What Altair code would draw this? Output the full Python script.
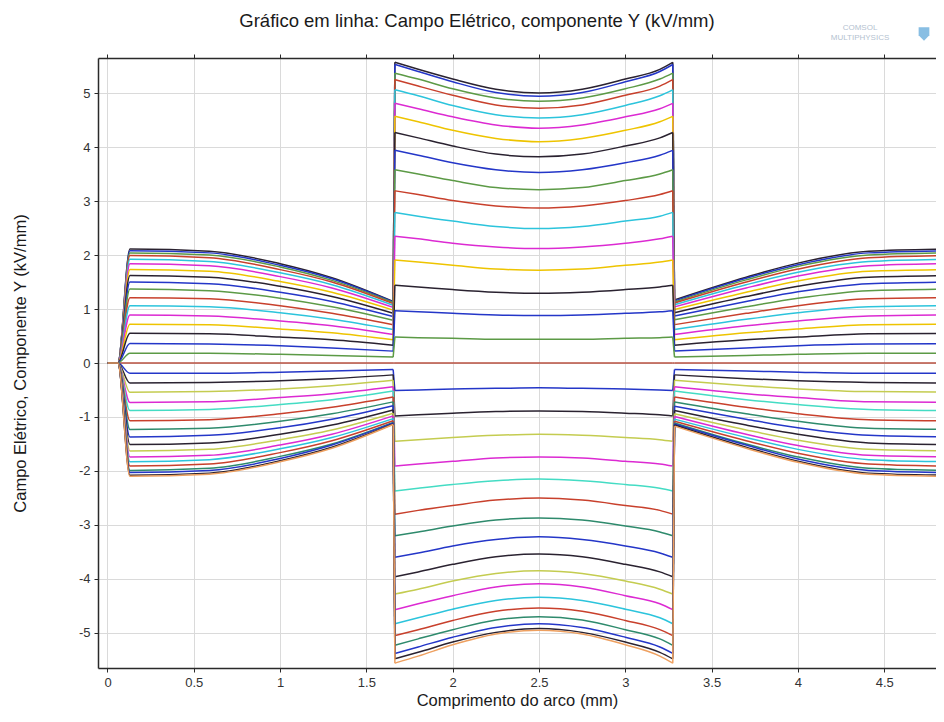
import altair as alt
import pandas as pd

# x positions (mm) where each curve was read
X_MM = [0.0, 0.06, 0.13, 0.59, 1.0, 1.3, 1.655, 1.665, 1.8, 2.0, 2.25, 2.5,
        2.75, 3.0, 3.2, 3.275, 3.285, 3.7, 4.0, 4.41, 4.87]
# index ranges of the three smooth pieces (left, middle, right); the jumps join them
PIECES = [(0, 7), (6, 8), (7, 16), (15, 17), (16, 21)]

X_TICKS = [0, 0.5, 1, 1.5, 2, 2.5, 3, 3.5, 4, 4.5]
Y_TICKS = [-5, -4, -3, -2, -1, 0, 1, 2, 3, 4, 5]

# positive curves (outer -> inner)
p01 = [0, 0, 2.11, 2.07, 1.84, 1.58, 1.14, 5.57, 5.44, 5.26, 5.07, 5.00, 5.07, 5.26, 5.44, 5.57, 1.17, 1.59, 1.85, 2.07, 2.11]
p02 = [0, 0, 2.08, 2.04, 1.81, 1.56, 1.13, 5.53, 5.40, 5.21, 5.01, 4.94, 5.01, 5.21, 5.40, 5.53, 1.15, 1.57, 1.82, 2.04, 2.08]
p03 = [0, 0, 2.04, 2.00, 1.78, 1.53, 1.12, 5.37, 5.26, 5.08, 4.91, 4.85, 4.91, 5.08, 5.26, 5.37, 1.13, 1.54, 1.79, 2.00, 2.04]
p04 = [0, 0, 1.99, 1.95, 1.73, 1.50, 1.10, 5.25, 5.13, 4.96, 4.78, 4.72, 4.78, 4.96, 5.13, 5.25, 1.11, 1.50, 1.74, 1.95, 1.99]
p05 = [0, 0, 1.92, 1.88, 1.67, 1.45, 1.07, 5.06, 4.95, 4.77, 4.60, 4.54, 4.60, 4.77, 4.95, 5.06, 1.08, 1.45, 1.68, 1.88, 1.92]
p06 = [0, 0, 1.84, 1.80, 1.60, 1.39, 1.03, 4.81, 4.71, 4.56, 4.41, 4.35, 4.41, 4.56, 4.71, 4.81, 1.04, 1.39, 1.61, 1.80, 1.84]
p07 = [0, 0, 1.73, 1.70, 1.51, 1.31, 0.98, 4.57, 4.47, 4.31, 4.16, 4.10, 4.16, 4.31, 4.47, 4.57, 0.99, 1.31, 1.52, 1.70, 1.73]
p08 = [0, 0, 1.62, 1.59, 1.42, 1.23, 0.92, 4.27, 4.17, 4.02, 3.87, 3.82, 3.87, 4.02, 4.17, 4.27, 0.93, 1.23, 1.42, 1.59, 1.62]
p09 = [0, 0, 1.50, 1.47, 1.31, 1.14, 0.86, 3.94, 3.85, 3.71, 3.58, 3.53, 3.58, 3.71, 3.85, 3.94, 0.87, 1.14, 1.32, 1.47, 1.50]
p10 = [0, 0, 1.37, 1.34, 1.20, 1.04, 0.79, 3.58, 3.50, 3.38, 3.25, 3.21, 3.25, 3.38, 3.50, 3.58, 0.80, 1.04, 1.20, 1.34, 1.37]
p11 = [0, 0, 1.21, 1.19, 1.06, 0.92, 0.71, 3.19, 3.12, 3.01, 2.91, 2.87, 2.91, 3.01, 3.12, 3.19, 0.71, 0.92, 1.06, 1.19, 1.21]
p12 = [0, 0, 1.06, 1.04, 0.93, 0.81, 0.62, 2.79, 2.72, 2.63, 2.53, 2.49, 2.53, 2.63, 2.72, 2.79, 0.62, 0.81, 0.93, 1.04, 1.06]
p13 = [0, 0, 0.89, 0.87, 0.78, 0.69, 0.53, 2.35, 2.30, 2.22, 2.15, 2.12, 2.15, 2.22, 2.30, 2.35, 0.53, 0.69, 0.78, 0.87, 0.89]
p14 = [0, 0, 0.72, 0.71, 0.63, 0.56, 0.43, 1.91, 1.87, 1.81, 1.74, 1.72, 1.74, 1.81, 1.87, 1.91, 0.43, 0.56, 0.63, 0.71, 0.72]
p15 = [0, 0, 0.55, 0.54, 0.48, 0.43, 0.33, 1.44, 1.41, 1.36, 1.31, 1.29, 1.31, 1.36, 1.41, 1.44, 0.33, 0.43, 0.48, 0.54, 0.55]
p16 = [0, 0, 0.36, 0.35, 0.32, 0.28, 0.22, 0.97, 0.95, 0.92, 0.89, 0.88, 0.89, 0.92, 0.95, 0.97, 0.22, 0.28, 0.32, 0.35, 0.36]
p17 = [0, 0, 0.18, 0.18, 0.16, 0.14, 0.11, 0.48, 0.47, 0.46, 0.44, 0.44, 0.44, 0.46, 0.47, 0.48, 0.11, 0.14, 0.16, 0.18, 0.18]

# negative curves (inner -> outer)
n01 = [0, 0, -0.19, -0.19, -0.17, -0.15, -0.12, -0.51, -0.50, -0.48, -0.47, -0.46, -0.47, -0.48, -0.50, -0.51, -0.12, -0.15, -0.17, -0.19, -0.19]
n02 = [0, 0, -0.37, -0.36, -0.33, -0.29, -0.22, -0.98, -0.96, -0.93, -0.90, -0.89, -0.90, -0.93, -0.96, -0.98, -0.22, -0.29, -0.33, -0.36, -0.37]
n03 = [0, 0, -0.54, -0.53, -0.48, -0.42, -0.32, -1.45, -1.42, -1.38, -1.34, -1.32, -1.34, -1.38, -1.42, -1.45, -0.32, -0.42, -0.48, -0.53, -0.54]
n04 = [0, 0, -0.73, -0.72, -0.64, -0.57, -0.44, -1.91, -1.87, -1.82, -1.76, -1.74, -1.76, -1.82, -1.87, -1.91, -0.44, -0.57, -0.64, -0.72, -0.73]
n05 = [0, 0, -0.88, -0.86, -0.77, -0.68, -0.52, -2.37, -2.32, -2.25, -2.18, -2.15, -2.18, -2.25, -2.32, -2.37, -0.52, -0.68, -0.77, -0.86, -0.88]
n06 = [0, 0, -1.07, -1.05, -0.94, -0.82, -0.63, -2.80, -2.73, -2.64, -2.54, -2.50, -2.54, -2.64, -2.73, -2.80, -0.63, -0.82, -0.94, -1.05, -1.07]
n07 = [0, 0, -1.23, -1.21, -1.08, -0.94, -0.72, -3.20, -3.13, -3.02, -2.91, -2.87, -2.91, -3.02, -3.13, -3.20, -0.72, -0.94, -1.08, -1.21, -1.23]
n08 = [0, 0, -1.37, -1.34, -1.20, -1.04, -0.79, -3.60, -3.52, -3.39, -3.27, -3.22, -3.27, -3.39, -3.52, -3.60, -0.80, -1.04, -1.20, -1.34, -1.37]
n09 = [0, 0, -1.51, -1.48, -1.32, -1.15, -0.87, -3.96, -3.87, -3.73, -3.59, -3.54, -3.59, -3.73, -3.87, -3.96, -0.88, -1.15, -1.32, -1.48, -1.51]
n10 = [0, 0, -1.63, -1.60, -1.42, -1.24, -0.93, -4.28, -4.19, -4.04, -3.90, -3.85, -3.90, -4.04, -4.19, -4.28, -0.94, -1.24, -1.43, -1.60, -1.63]
n11 = [0, 0, -1.74, -1.71, -1.52, -1.32, -0.98, -4.57, -4.46, -4.31, -4.15, -4.09, -4.15, -4.31, -4.46, -4.57, -0.99, -1.32, -1.53, -1.71, -1.74]
n12 = [0, 0, -1.83, -1.79, -1.59, -1.38, -1.03, -4.83, -4.72, -4.56, -4.40, -4.34, -4.40, -4.56, -4.72, -4.83, -1.04, -1.38, -1.60, -1.79, -1.83]
n13 = [0, 0, -1.91, -1.87, -1.66, -1.44, -1.07, -5.05, -4.94, -4.77, -4.60, -4.54, -4.60, -4.77, -4.94, -5.05, -1.08, -1.44, -1.67, -1.87, -1.91]
n14 = [0, 0, -1.99, -1.95, -1.73, -1.50, -1.10, -5.23, -5.11, -4.94, -4.76, -4.70, -4.76, -4.94, -5.11, -5.23, -1.11, -1.50, -1.74, -1.95, -1.99]
n15 = [0, 0, -2.03, -1.99, -1.77, -1.52, -1.11, -5.38, -5.26, -5.08, -4.90, -4.83, -4.90, -5.08, -5.26, -5.38, -1.13, -1.52, -1.78, -1.99, -2.03]
n16 = [0, 0, -2.08, -2.04, -1.81, -1.56, -1.13, -5.48, -5.36, -5.17, -4.99, -4.92, -4.99, -5.17, -5.36, -5.48, -1.15, -1.56, -1.82, -2.04, -2.08]
n17 = [0, 0, -2.10, -2.06, -1.83, -1.58, -1.14, -5.56, -5.43, -5.22, -5.02, -4.95, -5.02, -5.22, -5.43, -5.56, -1.17, -1.58, -1.84, -2.06, -2.10]

z00 = [0] * len(X_MM)

BLACK, BLUE, GREEN, RED = "#2a2230", "#2436c8", "#5c9a46", "#c8402c"
CYAN, MAGENTA, YELLOW = "#2cc4dc", "#dc2ad2", "#eec400"
YGREEN, TURQ, TEAL, ORANGE = "#c4cc50", "#44dcc4", "#2e8a6c", "#eea060"

POS = [p01, p02, p03, p04, p05, p06, p07, p08, p09, p10, p11, p12, p13, p14, p15, p16, p17]
POS_COLORS = [BLACK, BLUE, GREEN, RED, CYAN, MAGENTA, YELLOW, BLACK, BLUE, GREEN,
              RED, CYAN, MAGENTA, YELLOW, BLACK, BLUE, GREEN]
NEG = [n01, n02, n03, n04, n05, n06, n07, n08, n09, n10, n11, n12, n13, n14, n15, n16, n17]
NEG_COLORS = [BLUE, BLACK, YGREEN, MAGENTA, TURQ, RED, TEAL, BLUE, BLACK, YGREEN,
              MAGENTA, CYAN, RED, TEAL, BLUE, BLACK, ORANGE]

TITLE = "Gráfico em linha: Campo Elétrico, componente Y (kV/mm)"
X_TITLE = "Comprimento do arco (mm)"
Y_TITLE = "Campo Elétrico, Componente Y (kV/mm)"
LOGO = ["COMSOL", "MULTIPHYSICS"]

all_series = [("z00", z00, "#b85040")]
for prefix, series, cols in (("p", POS, POS_COLORS), ("n", NEG, NEG_COLORS)):
    for i, (vals, c) in enumerate(zip(series, cols)):
        all_series.append((f"{prefix}{i + 1:02d}", vals, c))

names = [s[0] for s in all_series]
colors = [s[2] for s in all_series]
rows = []
for nm, vals, _ in all_series:
    for k, (a, b) in enumerate(PIECES):
        for xv, yv in zip(X_MM[a:b], vals[a:b]):
            rows.append({"curve": nm, "seg": f"{nm}_{k}", "x": xv, "y": yv})
df = pd.DataFrame(rows)

FONT = "Liberation Sans"
W, H = 838, 610
xscale = alt.Scale(domain=[-0.055, 4.8], nice=False, zero=False)
yscale = alt.Scale(domain=[-5.65, 5.65], nice=False, zero=False)

lines = alt.Chart(df).mark_line(strokeWidth=1.5, interpolate="monotone", clip=True).encode(
    x=alt.X("x:Q", scale=xscale,
            axis=alt.Axis(values=X_TICKS, title=X_TITLE,
                          labelExpr="datum.value + ''", titlePadding=3)),
    y=alt.Y("y:Q", scale=yscale,
            axis=alt.Axis(values=Y_TICKS, title=Y_TITLE,
                          labelExpr="datum.value + ''", titleX=-70, titleY=H / 2)),
    color=alt.Color("curve:N", scale=alt.Scale(domain=names, range=colors), legend=None),
    detail="seg:N",
)

top_axis = alt.Chart(df).mark_line(opacity=0).encode(
    x=alt.X("x:Q", scale=xscale,
            axis=alt.Axis(orient="top", values=X_TICKS, labels=False, title=None, grid=False)),
    y=alt.Y("y:Q", scale=yscale, axis=None),
    detail="seg:N",
)

title_txt = alt.Chart(pd.DataFrame({"t": [TITLE]})).mark_text(
    font=FONT, fontSize=18.5, color="#1a1a1a", align="center", baseline="middle").encode(
    x=alt.value(379), y=alt.value(-37), text="t:N")
logo1 = alt.Chart(pd.DataFrame({"t": [LOGO[0]]})).mark_text(
    font=FONT, fontSize=8, color="#b4c2d0", align="center", baseline="middle").encode(
    x=alt.value(762), y=alt.value(-30), text="t:N")
logo2 = alt.Chart(pd.DataFrame({"t": [LOGO[1]]})).mark_text(
    font=FONT, fontSize=8, color="#b4c2d0", align="center", baseline="middle").encode(
    x=alt.value(762), y=alt.value(-20), text="t:N")
shield = alt.Chart(pd.DataFrame({"t": [1]})).mark_point(
    shape="M-0.8,-1L0.8,-1L0.8,0.2L0,1L-0.8,0.2Z", filled=True, color="#6aaedc",
    opacity=0.8, size=180).encode(x=alt.value(826), y=alt.value(-24))

chart = alt.layer(lines, top_axis, title_txt, logo1, logo2, shield).resolve_axis(
    x="independent", y="independent").properties(
    width=W, height=H,
    autosize=alt.AutoSizeParams(type="none"),
    padding={"left": 90, "top": 50, "right": 0, "bottom": 44},
).configure_view(stroke=None).configure_axis(
    labelFont=FONT, labelFontSize=13, labelColor="#333333",
    titleFont=FONT, titleFontSize=16.5, titleFontWeight="normal", titleColor="#1a1a1a",
    gridColor="#dadada", gridWidth=1, domainColor="#2a2a2a", domainWidth=1.5,
    tickColor="#2a2a2a", tickSize=4, labelPadding=4,
)

chart.save("out.html", embed_options={"renderer": "svg", "actions": False})
